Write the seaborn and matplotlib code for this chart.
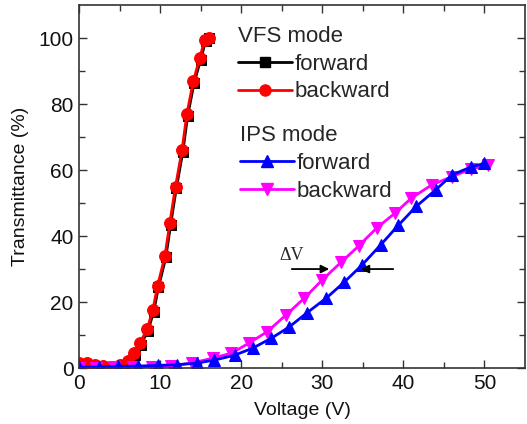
import matplotlib
matplotlib.use("Agg")
import matplotlib.pyplot as plt
import seaborn as sns
import numpy as np
import pandas as pd

# VFS mode data
vfs_v_fwd = [0, 1, 2, 3, 4, 5, 6.2, 6.9, 7.6, 8.5, 9.2, 9.8, 10.7, 11.3, 12.0, 12.8, 13.4, 14.2, 15.0, 15.6, 16.0]
vfs_t_fwd = [1.2, 1.0, 0.6, 0.3, 0.3, 0.6, 1.6, 4.0, 7.0, 11.3, 17.0, 24.5, 33.5, 43.5, 54.5, 65.5, 76.5, 86.5, 93.5, 99.0, 100.0]
vfs_v_bwd = [0, 1, 2, 3, 4, 5, 6.1, 6.8, 7.5, 8.4, 9.1, 9.7, 10.6, 11.2, 11.9, 12.7, 13.3, 14.1, 14.9, 15.5, 16.0]
vfs_t_bwd = [1.6, 1.4, 1.0, 0.5, 0.4, 0.8, 2.0, 4.5, 7.5, 11.8, 17.6, 25.0, 34.0, 44.0, 55.0, 66.0, 77.0, 87.0, 94.0, 99.5, 100.0]

# IPS mode data
ips_v_fwd = [0, 2.4, 4.8, 7.3, 9.7, 12.1, 14.5, 16.7, 19.2, 21.4, 23.7, 25.9, 28.1, 30.5, 32.7, 34.9, 37.2, 39.4, 41.6, 44.0, 46.0, 48.4, 50.0]
ips_t_fwd = [0.2, 0.3, 0.5, 0.6, 0.8, 1.0, 1.5, 2.4, 3.9, 6.0, 9.0, 12.4, 16.7, 21.2, 26.0, 31.2, 37.3, 43.3, 49.0, 54.0, 58.5, 61.0, 62.0]
ips_v_bwd = [0, 2.1, 4.3, 6.6, 9.0, 11.4, 13.9, 16.5, 18.8, 21.0, 23.2, 25.5, 27.8, 30.0, 32.3, 34.5, 36.7, 39.0, 41.0, 43.5, 46.0, 48.3, 50.5]
ips_t_bwd = [0.1, 0.1, 0.2, 0.3, 0.4, 0.7, 1.5, 3.0, 4.5, 7.6, 11.0, 16.0, 21.2, 26.7, 32.0, 37.0, 42.4, 47.0, 51.5, 55.5, 58.0, 60.3, 61.5]

sns.set_theme(style="ticks")
plt.rcParams['font.family'] = ['Liberation Sans', 'DejaVu Sans']

fig = plt.figure(figsize=(5.27, 4.24), dpi=100)
ax = fig.add_axes([0.15, 0.132, 0.846, 0.856])

lw = 2.0
sns.lineplot(x=vfs_v_fwd, y=vfs_t_fwd, ax=ax, color="black", marker="s", markersize=7,
             markeredgecolor="black", linewidth=lw, sort=False)
sns.lineplot(x=vfs_v_bwd, y=vfs_t_bwd, ax=ax, color="red", marker="o", markersize=8.5,
             markeredgecolor="red", linewidth=lw, sort=False)
sns.lineplot(x=ips_v_bwd, y=ips_t_bwd, ax=ax, color="magenta", marker="v", markersize=9,
             markeredgecolor="magenta", linewidth=lw, sort=False)
sns.lineplot(x=ips_v_fwd, y=ips_t_fwd, ax=ax, color="blue", marker="^", markersize=9,
             markeredgecolor="blue", linewidth=lw, sort=False)

ax.set_xlim(0, 55)
ax.set_ylim(0, 110)
ax.set_xticks([0, 10, 20, 30, 40, 50])
ax.set_xticks([5, 15, 25, 35, 45], minor=True)
ax.set_yticks([0, 20, 40, 60, 80, 100])
ax.set_yticks([10, 30, 50, 70, 90], minor=True)
ax.tick_params(which="both", direction="in", top=True, right=True, labelsize=15, color="#333333",
               labelcolor="#111111", pad=4)
ax.tick_params(which="major", length=6, width=1)
ax.tick_params(which="minor", length=4, width=1)
for s in ax.spines.values():
    s.set_linewidth(1.2)
    s.set_color("#333333")
ax.set_xlabel("Voltage (V)", fontsize=14, labelpad=7, color="#111111")
ax.set_ylabel("Transmittance (%)", fontsize=14, labelpad=7, color="#111111")

from matplotlib.lines import Line2D
h_vf = Line2D([], [], color="black", marker="s", markersize=7, linewidth=lw)
h_vb = Line2D([], [], color="red", marker="o", markersize=8, linewidth=lw)
h_if = Line2D([], [], color="blue", marker="^", markersize=9, linewidth=lw)
h_ib = Line2D([], [], color="magenta", marker="v", markersize=9, linewidth=lw)

leg1 = ax.legend([h_vf, h_vb], ["forward", "backward"], title="VFS mode", loc="upper left",
                 bbox_to_anchor=(0.322, 0.985), frameon=False, fontsize=16, title_fontsize=16,
                 handlelength=2.4, handletextpad=0.12, labelspacing=0.3, alignment="left",
                 borderpad=0.2)
ax.add_artist(leg1)
leg2 = ax.legend([h_if, h_ib], ["forward", "backward"], title="IPS mode", loc="upper left",
                 bbox_to_anchor=(0.327, 0.712), frameon=False, fontsize=16, title_fontsize=16,
                 handlelength=2.4, handletextpad=0.12, labelspacing=0.3, alignment="left",
                 borderpad=0.2)

ax.text(24.7, 32.7, "ΔV", fontsize=13, family=["Liberation Serif", "DejaVu Serif"], zorder=6)
ax.annotate("", xy=(31.2, 30.0), xytext=(25.9, 30.0), zorder=6,
            arrowprops=dict(arrowstyle="-|>", color="black", lw=1.3, mutation_scale=12))
ax.annotate("", xy=(34.4, 30.0), xytext=(39.1, 30.0), zorder=6,
            arrowprops=dict(arrowstyle="-|>", color="black", lw=1.3, mutation_scale=12))

fig.savefig("out.png", dpi=100)
